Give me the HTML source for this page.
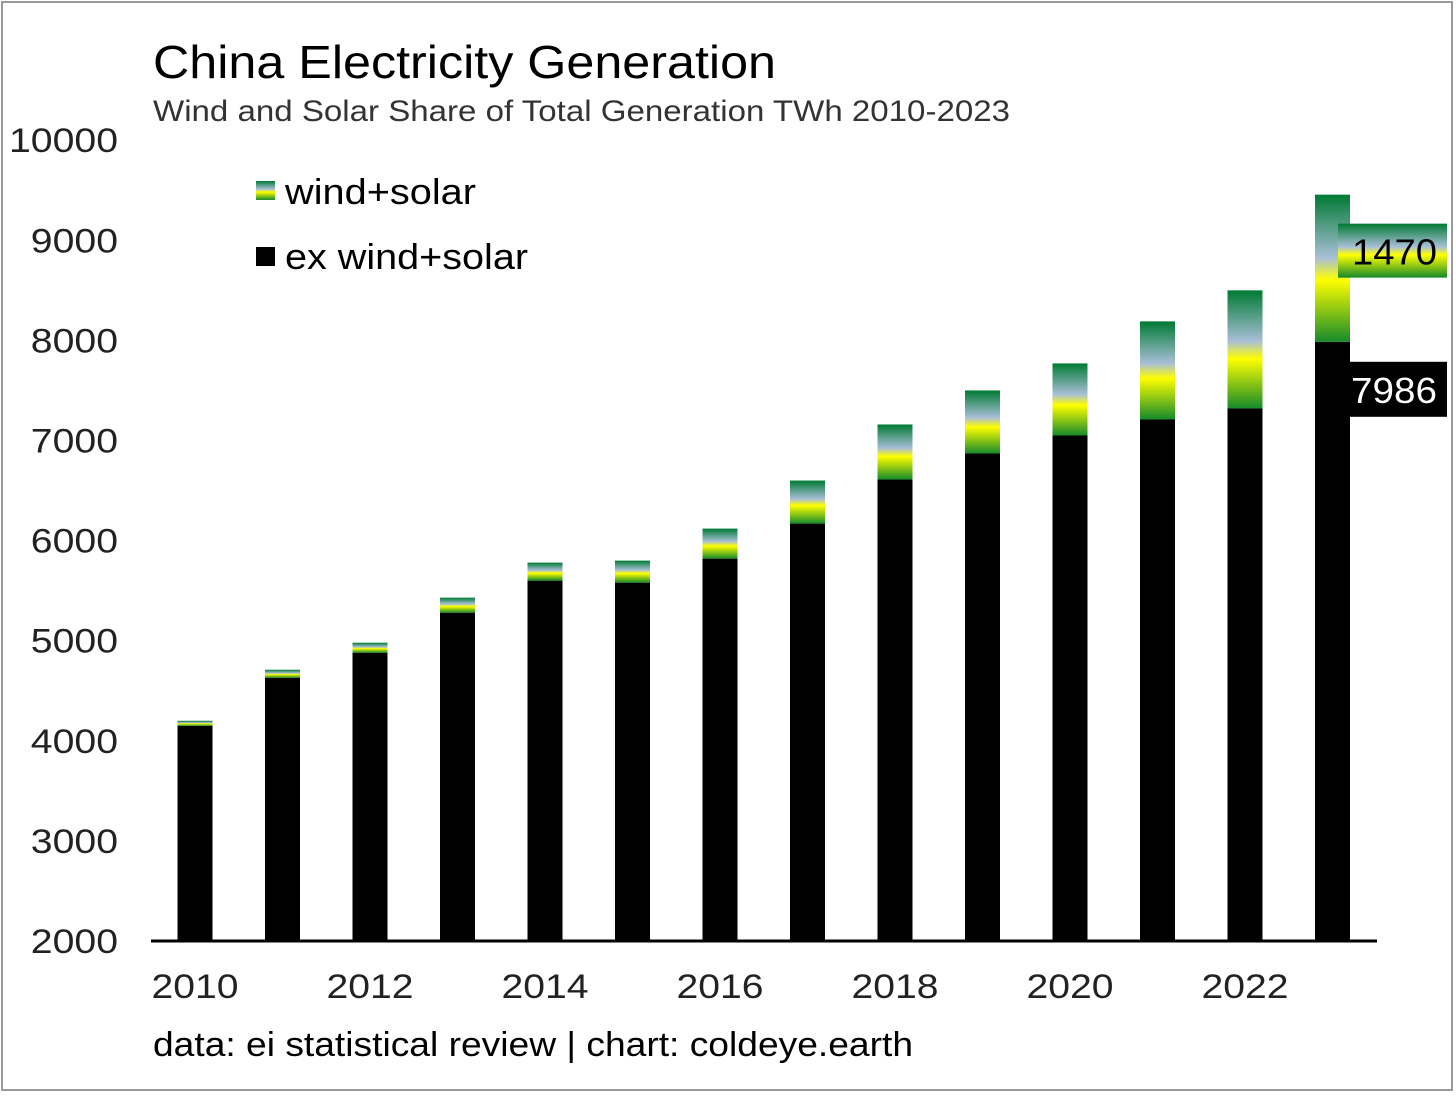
<!DOCTYPE html>
<html><head><meta charset="utf-8"><style>
body{margin:0;background:#fff;}
svg text{font-family:"Liberation Sans",sans-serif;}
</style></head><body>
<svg id="chart" width="1456" height="1097" xmlns="http://www.w3.org/2000/svg">
<defs>
<linearGradient id="ws" x1="0" y1="0" x2="0" y2="1">
<stop offset="0" stop-color="#007a33"/>
<stop offset="0.43" stop-color="#a9bfd8"/>
<stop offset="0.58" stop-color="#ffff00"/>
<stop offset="1" stop-color="#158a2a"/>
</linearGradient>
</defs>
<rect x="2" y="2" width="1450" height="1088" fill="#fff" stroke="#999" stroke-width="2"/>
<text x="153" y="78" font-size="46" fill="#000" textLength="623" lengthAdjust="spacingAndGlyphs">China Electricity Generation</text>
<text x="153" y="121" font-size="30" fill="#333" textLength="857" lengthAdjust="spacingAndGlyphs">Wind and Solar Share of Total Generation TWh 2010-2023</text>
<g>
<rect x="256" y="181" width="19" height="19" fill="url(#ws)"/>
<text x="285" y="204" font-size="36" textLength="191" lengthAdjust="spacingAndGlyphs">wind+solar</text>
<rect x="256" y="247" width="19" height="19" fill="#000"/>
<text x="285" y="269" font-size="36" textLength="243" lengthAdjust="spacingAndGlyphs">ex wind+solar</text>
</g>
<g id="yaxis"></g>
<g id="xaxis"></g>
<g id="bars"></g>
<line x1="151" y1="941" x2="1377" y2="941" stroke="#000" stroke-width="3"/>
<text x="153" y="1056" font-size="34" textLength="760" lengthAdjust="spacingAndGlyphs">data: ei statistical review | chart: coldeye.earth</text>
</svg>
<script>
const years=[2010,2011,2012,2013,2014,2015,2016,2017,2018,2019,2020,2021,2022,2023];
const exWindSolar=[4150,4630,4880,5280,5600,5580,5820,6170,6610,6870,7050,7210,7320,7986];
const windSolar=[50,80,100,150,180,220,300,430,550,630,720,980,1180,1470];
const yTicks=[2000,3000,4000,5000,6000,7000,8000,9000,10000];
const xTickYears=[2010,2012,2014,2016,2018,2020,2022];
const NS="http://www.w3.org/2000/svg";
const y=v=>941-(v-2000)*0.1001;
const x=yr=>195+(yr-2010)*87.5;
const bw=35;
function mk(tag,attrs,parent){const e=document.createElementNS(NS,tag);for(const k in attrs)e.setAttribute(k,attrs[k]);parent.appendChild(e);return e;}
const ya=document.getElementById('yaxis');
yTicks.forEach(t=>{const w=String(t).length*21.8;const e=mk('text',{x:118-w,y:y(t)+12,'font-size':34,fill:'#222',textLength:w,lengthAdjust:'spacingAndGlyphs'},ya);


e.textContent=t;});
const xa=document.getElementById('xaxis');
xTickYears.forEach(t=>{const e=mk('text',{x:x(t)-43.5,y:998,'font-size':34,fill:'#222',textLength:87,lengthAdjust:'spacingAndGlyphs'},xa);


e.textContent=t;});
const bg=document.getElementById('bars');
years.forEach((yr,i)=>{
const b=mk('rect',{x:x(yr)-bw/2,y:y(exWindSolar[i]),width:bw,height:941-y(exWindSolar[i]),fill:'#000'},bg);


const top=exWindSolar[i]+windSolar[i];
const g=mk('rect',{x:x(yr)-bw/2,y:y(top),width:bw,height:y(exWindSolar[i])-y(top),fill:'url(#ws)'},bg);


});
const li=years.length-1,lx=x(years[li])+bw/2;
const topL=exWindSolar[li]+windSolar[li];
const lb1=mk('rect',{x:lx-12,y:y(topL)+29,width:109,height:54,fill:'url(#ws)'},bg);


const lt1=mk('text',{x:lx+2,y:y(topL)+70,'font-size':36,fill:'#000',textLength:85,lengthAdjust:'spacingAndGlyphs'},bg);


lt1.textContent=windSolar[li];
const lb2=mk('rect',{x:lx,y:y(exWindSolar[li])+20,width:97,height:55,fill:'#000'},bg);


const lt2=mk('text',{x:lx+1,y:y(exWindSolar[li])+61,'font-size':36,fill:'#fff',textLength:86,lengthAdjust:'spacingAndGlyphs'},bg);


lt2.textContent=exWindSolar[li];
</script>
</body></html>
